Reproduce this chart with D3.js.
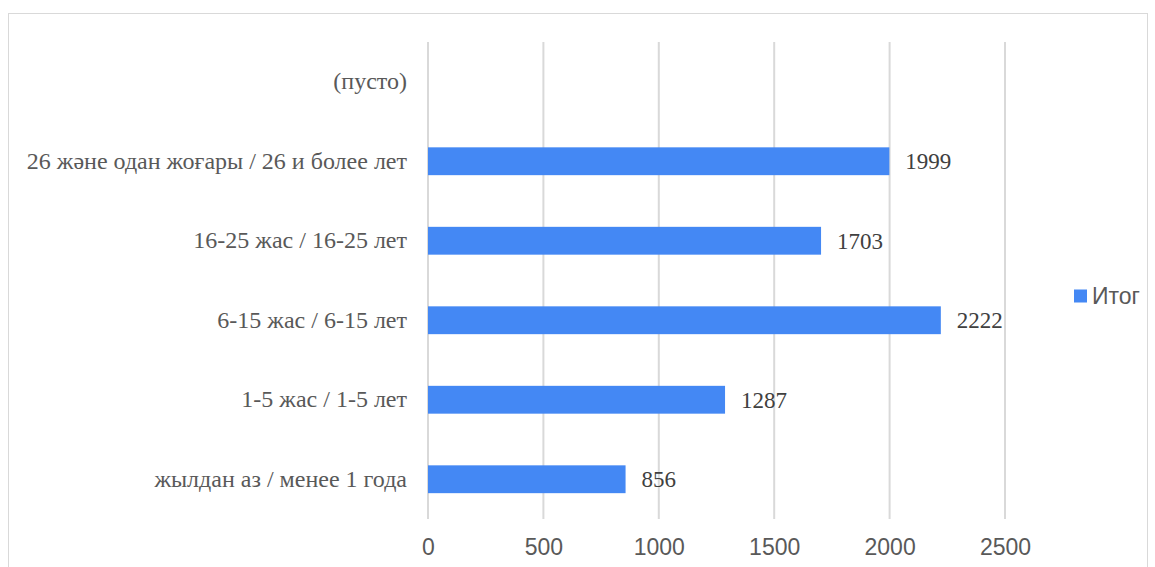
<!DOCTYPE html>
<html>
<head>
<meta charset="utf-8">
<script src="https://cdn.jsdelivr.net/npm/d3@7"></script>
<style>
  body { margin: 0; background: #fff; }
  svg { display: block; }
</style>
</head>
<body>
<div id="chart"></div>
<script>
// Data
var categories = [
  "(пусто)",
  "26 және одан жоғары / 26 и более лет",
  "16-25 жас / 16-25 лет",
  "6-15 жас / 6-15 лет",
  "1-5 жас / 1-5 лет",
  "жылдан аз / менее 1 года"
];
var values = [null, 1999, 1703, 2222, 1287, 856];
var xTicks = [0, 500, 1000, 1500, 2000, 2500];
var seriesName = "Итог";

var width = 1155, height = 567;
var margin = {top: 42, left: 428, right: 150, bottom: 48};
var barColor = "#4488f4";
var serif = "'Liberation Serif', 'Times New Roman', Times, serif";
var sans = "'Liberation Sans', Arial, sans-serif";

var svg = d3.select("#chart").append("svg")
    .attr("width", width)
    .attr("height", height);

// chart frame
svg.append("rect")
    .attr("x", 8.5).attr("y", 13.5)
    .attr("width", 1139).attr("height", 600)
    .attr("fill", "none")
    .attr("stroke", "#d9d9d9");

var x = d3.scaleLinear()
    .domain([0, 2500])
    .range([margin.left, 1005]);

var y = d3.scaleBand()
    .domain(categories)
    .range([margin.top, height - margin.bottom])
    .paddingInner(0.65)
    .paddingOuter(0.325);

// gridlines
svg.append("g")
    .selectAll("line")
    .data(xTicks)
    .enter().append("line")
    .attr("x1", function(d) { return x(d); })
    .attr("x2", function(d) { return x(d); })
    .attr("y1", margin.top)
    .attr("y2", height - margin.bottom)
    .attr("stroke", "#d9d9d9")
    .attr("stroke-width", 2);

// x axis labels
var xAxis = d3.axisBottom(x).tickValues(xTicks).tickFormat(d3.format("d"))
    .tickSize(0).tickPadding(20);
var gx = svg.append("g")
    .attr("transform", "translate(0," + (height - margin.bottom) + ")")
    .call(xAxis);
gx.attr("font-family", null).attr("font-size", null);
gx.select(".domain").remove();
gx.selectAll("text")
    .attr("fill", "#595959")
    .attr("font-family", sans)
    .attr("font-size", 23);

// y axis labels
var yAxis = d3.axisLeft(y).tickSize(0).tickPadding(21);
var gy = svg.append("g")
    .attr("transform", "translate(" + margin.left + ",0)")
    .call(yAxis);
gy.attr("font-family", null).attr("font-size", null);
gy.select(".domain").remove();
gy.selectAll("text")
    .attr("fill", "#595959")
    .attr("font-family", serif)
    .attr("font-size", 24);

// bars
var rows = categories.map(function(c, i) { return {name: c, value: values[i]}; })
    .filter(function(d) { return d.value != null; });

svg.append("g")
    .selectAll("rect")
    .data(rows)
    .enter().append("rect")
    .attr("x", x(0))
    .attr("y", function(d) { return y(d.name); })
    .attr("width", function(d) { return x(d.value) - x(0); })
    .attr("height", y.bandwidth())
    .attr("fill", barColor);

// value labels
svg.append("g")
    .selectAll("text")
    .data(rows)
    .enter().append("text")
    .attr("x", function(d) { return x(d.value) + 16; })
    .attr("y", function(d) { return y(d.name) + y.bandwidth() / 2; })
    .attr("dy", "0.35em")
    .attr("fill", "#404040")
    .attr("font-family", serif)
    .attr("font-size", 23)
    .text(function(d) { return d.value; });

// legend
var legend = svg.append("g").attr("transform", "translate(1074,296)");
legend.append("rect")
    .attr("x", 0).attr("y", -6.5)
    .attr("width", 13).attr("height", 13)
    .attr("fill", barColor);
legend.append("text")
    .attr("x", 18).attr("y", 0)
    .attr("dy", "0.35em")
    .attr("fill", "#595959")
    .attr("font-family", sans)
    .attr("font-size", 23)
    .text(seriesName);
</script>
</body>
</html>
